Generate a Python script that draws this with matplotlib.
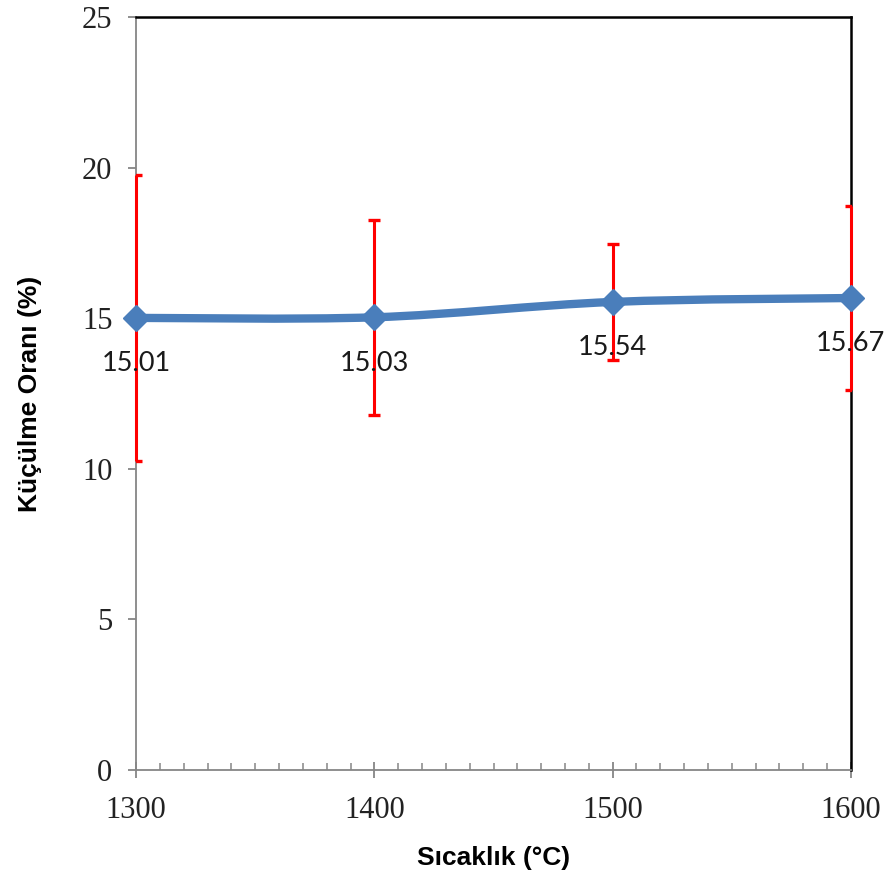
import numpy as np
import matplotlib
matplotlib.use('Agg')
import matplotlib.pyplot as plt
from matplotlib.path import Path
from matplotlib.patches import PathPatch
from matplotlib.ticker import MultipleLocator

# data
temps = [1300, 1400, 1500, 1600]
shrink = [15.01, 15.03, 15.54, 15.67]
shrink_err = [4.76, 3.24, 1.93, 3.06]
value_labels = ['15.01', '15.03', '15.54', '15.67']

x_ticks = [1300, 1400, 1500, 1600]
y_ticks = [0, 5, 10, 15, 20, 25]

BLUE = '#4a7ebb'
GRAY = '#868686'

fig = plt.figure(figsize=(8.88, 8.81), dpi=100)
ax = fig.add_axes([0.1532, 0.126, 0.8051, 0.8547])

# error bars: vertical lines sit on top of the spines, caps get clipped at the frame
_, caps, bars = ax.errorbar(temps, shrink, yerr=shrink_err, fmt='none',
                            ecolor='#ff0000', elinewidth=2.2, capsize=4.5,
                            capthick=2.4, zorder=2.6)
for b in bars:
    b.set_clip_on(False)

# smoothed line (Catmull-Rom bezier, like Excel's smoothed line)
pts = np.column_stack([temps, shrink]).astype(float)
ext = np.vstack([pts[0], pts, pts[-1]])
verts = [tuple(pts[0])]
codes = [Path.MOVETO]
for i in range(len(pts) - 1):
    p0, p1, p2, p3 = ext[i], ext[i + 1], ext[i + 2], ext[i + 3]
    c1 = p1 + (p2 - p0) / 6.0
    c2 = p2 - (p3 - p1) / 6.0
    verts += [tuple(c1), tuple(c2), tuple(p2)]
    codes += [Path.CURVE4] * 3
ax.add_patch(PathPatch(Path(verts, codes), fill=False, edgecolor=BLUE,
                       linewidth=6, capstyle='round', zorder=3))
ax.plot(temps, shrink, linestyle='none', marker='D', markersize=13,
        color=BLUE, zorder=4, clip_on=False)

for x, y, s in zip(temps, shrink, value_labels):
    ax.annotate(s, (x, y), xytext=(0, -33), textcoords='offset points',
                ha='center', va='center', fontsize=19.5, family='Lato',
                color='#1a1a1a', zorder=5, annotation_clip=False)

ax.set_xlim(1300, 1600)
ax.set_ylim(0, 25)
ax.set_xticks(x_ticks)
ax.set_yticks(y_ticks)
ax.xaxis.set_minor_locator(MultipleLocator(10))

for lab in ax.get_xticklabels() + ax.get_yticklabels():
    lab.set_family('Liberation Serif')
    lab.set_fontsize(22)
    lab.set_color('#222222')

ax.tick_params(axis='x', which='major', direction='inout', length=11,
               width=1.3, color=GRAY, pad=13)
ax.tick_params(axis='x', which='minor', direction='in', length=5,
               width=1.1, color=GRAY)
ax.tick_params(axis='y', which='major', direction='out', length=6,
               width=1.3, color=GRAY, pad=11)

ax.spines['left'].set_color(GRAY)
ax.spines['bottom'].set_color(GRAY)
ax.spines['left'].set_linewidth(1.3)
ax.spines['bottom'].set_linewidth(1.3)
ax.spines['top'].set_color('black')
ax.spines['right'].set_color('black')
ax.spines['top'].set_linewidth(1.8)
ax.spines['right'].set_linewidth(1.8)

ax.set_xlabel('Sıcaklık (°C)', fontsize=19, fontweight='bold',
              family='Liberation Sans', va='center')
ax.xaxis.set_label_coords(0.5, -0.117)
ax.set_ylabel('Küçülme Oranı (%)', fontsize=19, fontweight='bold',
              family='Liberation Sans', va='center', ha='center')
ax.yaxis.set_label_coords(-0.148, 0.5)

fig.savefig('out.png', dpi=100)
